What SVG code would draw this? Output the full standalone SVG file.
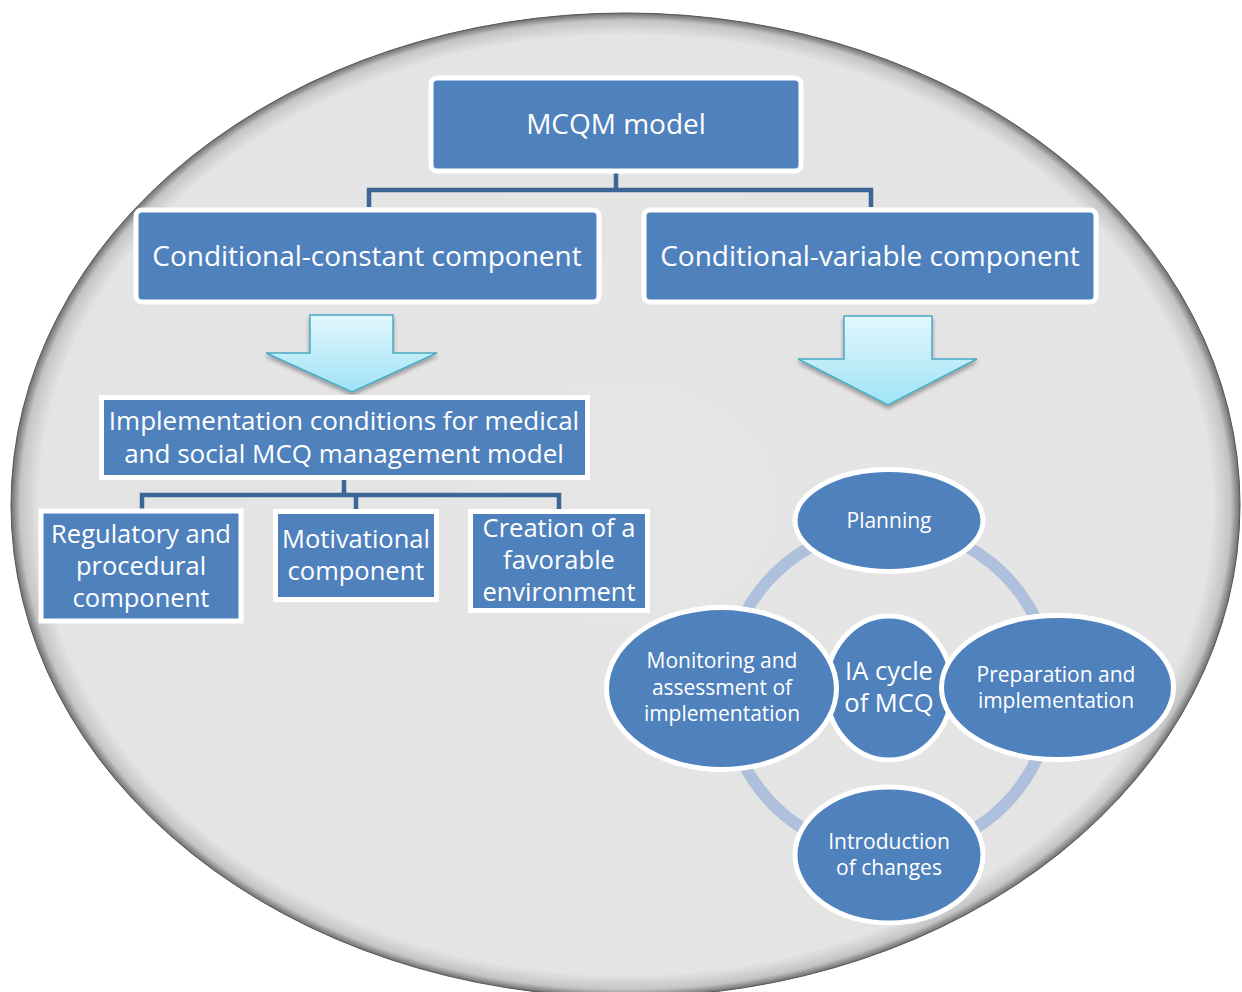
<svg xmlns="http://www.w3.org/2000/svg" width="1242" height="992" viewBox="0 0 1242 992">
<defs>
<radialGradient id="bg" cx="0.5" cy="0.5" r="0.5">
<stop offset="0" stop-color="#e5e5e5"/>
<stop offset="0.955" stop-color="#e4e4e4"/>
<stop offset="0.985" stop-color="#c4c4c4"/>
<stop offset="1" stop-color="#6e6e6e"/>
</radialGradient>
<linearGradient id="arr" x1="0" y1="0" x2="0" y2="1">
<stop offset="0" stop-color="#e2f7fd"/>
<stop offset="1" stop-color="#9fe3f6"/>
</linearGradient>
<filter id="sh" x="-20%" y="-20%" width="140%" height="150%">
<feGaussianBlur in="SourceAlpha" stdDeviation="2"/>
<feOffset dx="0" dy="3" result="b"/>
<feComponentTransfer><feFuncA type="linear" slope="0.35"/></feComponentTransfer>
<feMerge><feMergeNode/><feMergeNode in="SourceGraphic"/></feMerge>
</filter>
</defs>
<style>
.box{fill:#4f81bd;stroke:#ffffff;stroke-width:5}
.ell{fill:#4f81bd;stroke:#ffffff;stroke-width:5}
.t{fill:#ffffff;font-family:"Open Sans","Noto Sans","DejaVu Sans",sans-serif;text-anchor:middle}
.top{font-size:28px}
.big{font-size:26px}
.mid{font-size:25.5px}
.sm{font-size:21px}
.con{fill:none;stroke:#3b6696;stroke-width:4.5}
.arrow{fill:url(#arr);stroke:#4aa9c3;stroke-width:1.5}
</style>
<ellipse id="background" cx="625.5" cy="505" rx="614.5" ry="492" fill="url(#bg)" stroke="#555555" stroke-width="1"/>

<g id="connectors">
<path class="con" d="M616,171 V190 M369,207 V190 H871 V207"/>
<path class="con" d="M344,478 V495 M142,510 V495 H559 V510 M356,495 V510"/>
<circle cx="889" cy="690" r="163" fill="none" stroke="#afc0dc" stroke-width="12"/>
</g>

<g id="mcqm">
<rect class="box" x="431" y="78" width="370" height="93" rx="6"/>
<text class="t top" x="616" y="134">MCQM model</text>
</g>
<g id="constant">
<rect class="box" x="136" y="210" width="463" height="92" rx="6"/>
<text class="t top" x="367" y="266">Conditional-constant component</text>
</g>
<g id="variable">
<rect class="box" x="644" y="210" width="452" height="92" rx="6"/>
<text class="t top" x="870" y="266">Conditional-variable component</text>
</g>

<g id="arrow-left">
<path class="arrow" filter="url(#sh)" d="M310,315 H393 V353 H437 L352,392 L266,353 H310 Z"/>
</g>
<g id="arrow-right">
<path class="arrow" filter="url(#sh)" d="M844,316 H932 V359 H977 L888,405 L798,359 H844 Z"/>
</g>

<g id="implementation">
<rect class="box" x="101.5" y="397.5" width="486" height="80"/>
<text class="t big" x="344" y="430">Implementation conditions for medical</text>
<text class="t big" x="344" y="463">and social MCQ management model</text>
</g>
<g id="regulatory">
<rect class="box" x="41" y="511" width="200" height="110"/>
<text class="t mid" x="141" y="543">Regulatory and</text>
<text class="t mid" x="141" y="575">procedural</text>
<text class="t mid" x="141" y="607">component</text>
</g>
<g id="motivational">
<rect class="box" x="275.5" y="511.5" width="161" height="88"/>
<text class="t mid" x="356" y="548">Motivational</text>
<text class="t mid" x="356" y="580">component</text>
</g>
<g id="creation">
<rect class="box" x="470.5" y="511.5" width="177" height="99"/>
<text class="t mid" x="559" y="537">Creation of a</text>
<text class="t mid" x="559" y="569">favorable</text>
<text class="t mid" x="559" y="601">environment</text>
</g>

<g id="ia-cycle">
<ellipse class="ell" cx="889" cy="688" rx="63" ry="72"/>
<text class="t mid" x="889" y="680">IA cycle</text>
<text class="t mid" x="889" y="712">of MCQ</text>
</g>
<g id="planning">
<ellipse class="ell" cx="889" cy="520.5" rx="94" ry="51"/>
<text class="t sm" x="889" y="528">Planning</text>
</g>
<g id="monitoring">
<ellipse class="ell" cx="721.5" cy="688.5" rx="115" ry="81"/>
<text class="t sm" x="722" y="668">Monitoring and</text>
<text class="t sm" x="722" y="695">assessment of</text>
<text class="t sm" x="722" y="721">implementation</text>
</g>
<g id="preparation">
<ellipse class="ell" cx="1057.5" cy="687.5" rx="116" ry="72"/>
<text class="t sm" x="1056" y="682">Preparation and</text>
<text class="t sm" x="1056" y="708">implementation</text>
</g>
<g id="introduction">
<ellipse class="ell" cx="889" cy="855" rx="94" ry="68"/>
<text class="t sm" x="889" y="849">Introduction</text>
<text class="t sm" x="889" y="875">of changes</text>
</g>
</svg>
